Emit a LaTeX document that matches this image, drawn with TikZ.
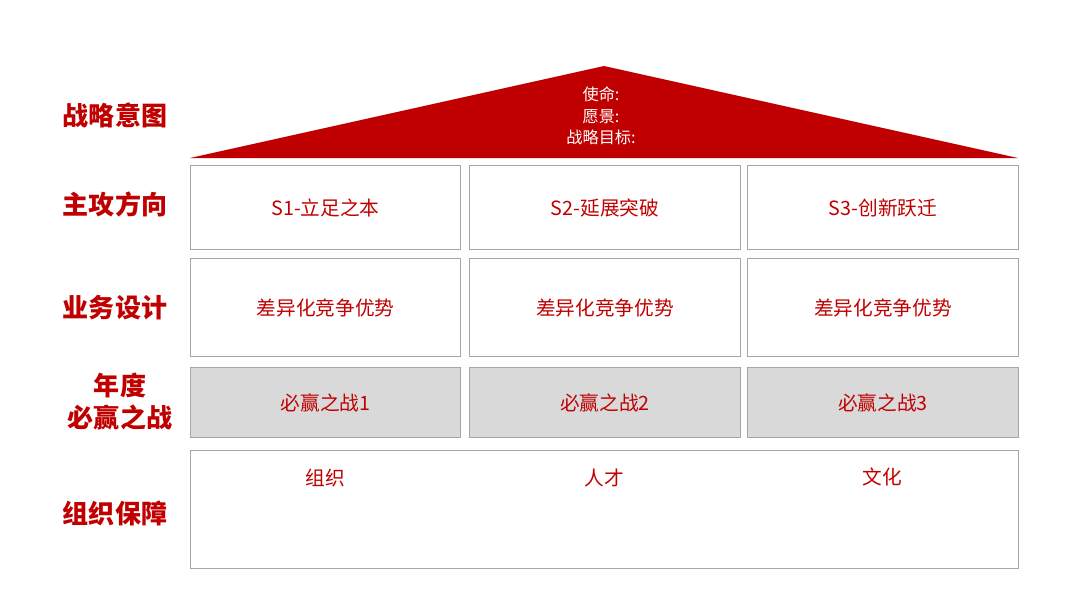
\documentclass[tikz,border=0pt]{standalone}
\usepackage{fontspec}
\newfontfamily\cjk{Noto Sans CJK SC}
\usepackage{tikz}
\usetikzlibrary{backgrounds}
\definecolor{roofred}{HTML}{C00000}
\definecolor{boxgray}{HTML}{A6A6A6}
\definecolor{fillgray}{HTML}{D9D9D9}

\begin{document}
\begin{tikzpicture}[x=0.025cm,y=-0.025cm,
  rowlabel/.style={text=roofred,font=\cjk\bfseries\fontsize{18.5}{22.7}\selectfont,align=center},
  cell/.style={draw=boxgray,line width=0.8pt,anchor=north west,inner sep=0pt,
    minimum width=270*0.025cm,text=roofred,font=\cjk\fontsize{14}{17}\selectfont},
  wincell/.style={cell,fill=fillgray},
  celltext/.style={text=roofred,font=\cjk\fontsize{14}{17}\selectfont},
  rooftext/.style={text=white,font=\cjk\fontsize{11.5}{15.4}\selectfont,align=center}]
\useasboundingbox (0,0) rectangle (1080,608);
% roof
\fill[roofred] (190,158) -- (604,66) -- (1018,158) -- cycle;
\node[rooftext] (roof) at (601,116) {使命:\\愿景:\\战略目标:};
% left labels
\node[rowlabel] (lintent) at (115,115) {战略意图};
\node[rowlabel] (ldir) at (115,204) {主攻方向};
\node[rowlabel] (lbiz) at (115,308) {业务设计};
\node[rowlabel] (lwin) at (120,402) {年度\\必赢之战};
\node[rowlabel] (lorg) at (115,513) {组织保障};
% row 1
\node[cell,minimum height=84*0.025cm] (s1) at (190,165) {S1-立足之本};
\node[cell,minimum height=84*0.025cm,minimum width=271*0.025cm] (s2) at (469,165) {S2-延展突破};
\node[cell,minimum height=84*0.025cm,minimum width=271*0.025cm] (s3) at (747,165) {S3-创新跃迁};
% row 2
\node[cell,minimum height=98*0.025cm] (b1) at (190,258) {差异化竞争优势};
\node[cell,minimum height=98*0.025cm,minimum width=271*0.025cm] (b2) at (469,258) {差异化竞争优势};
\node[cell,minimum height=98*0.025cm,minimum width=271*0.025cm] (b3) at (747,258) {差异化竞争优势};
% row 3
\node[wincell,minimum height=70*0.025cm] (w1) at (190,367) {必赢之战1};
\node[wincell,minimum height=70*0.025cm,minimum width=271*0.025cm] (w2) at (469,367) {必赢之战2};
\node[wincell,minimum height=70*0.025cm,minimum width=271*0.025cm] (w3) at (747,367) {必赢之战3};
% row 4
\node[cell,minimum width=828*0.025cm,minimum height=118*0.025cm] (org) at (190,450) {};
\node[celltext] (o1) at (325,478) {组织};
\node[celltext] (o2) at (604,478) {人才};
\node[celltext] (o3) at (882,477) {文化};
\end{tikzpicture}
\end{document}
